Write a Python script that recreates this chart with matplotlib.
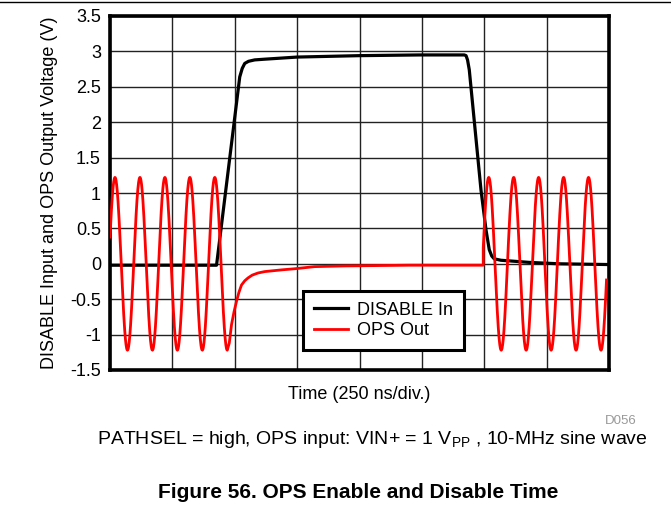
import numpy as np
import matplotlib
matplotlib.use('Agg')
import matplotlib.pyplot as plt
from matplotlib.lines import Line2D

plt.rcParams['font.family'] = ['Liberation Sans', 'DejaVu Sans']

# time axis: 8 div x 250 ns
t_min, t_max = 0, 2000
y_min, y_max = -1.5, 3.5
yticks = [-1.5, -1, -0.5, 0, 0.5, 1, 1.5, 2, 2.5, 3, 3.5]
ytick_labels = ['-1.5', '-1', '-0.5', '0', '0.5', '1', '1.5', '2', '2.5', '3', '3.5']

# DISABLE input (ns, V)
dis_t = [0, 427, 520, 530, 540, 555, 580, 620, 750, 1000, 1240, 1420, 1427,
         1433, 1440, 1487, 1507, 1520, 1530, 1540, 1567, 1680, 1800, 1990]
dis_v = [-0.02, -0.02, 2.64, 2.76, 2.83, 2.86, 2.88, 2.89, 2.92, 2.94, 2.95, 2.95, 2.94,
         2.88, 2.74, 1.04, 0.48, 0.2, 0.11, 0.07, 0.05, 0.02, 0.0, -0.01]

# OPS output: 10-MHz sine (amplitude / phase read from peaks)
sine_amp = 1.22
sine_period = 100.0
left_peak = 20.0        # first peak time, before disable
right_peak = 18.0       # peak phase after re-enable
disable_at = 470        # last trough before decay
enable_at = 1496
end_at = 1990

# decay of the output after disable (ns, V)
decay_t = [470, 478, 487, 497, 507, 517, 527, 540, 553, 570, 593, 620, 647, 690,
           740, 820, 940, 1200, 1496]
decay_v = [-1.17, -1.12, -0.86, -0.68, -0.53, -0.40, -0.30, -0.24, -0.20, -0.16,
           -0.13, -0.11, -0.10, -0.085, -0.07, -0.04, -0.03, -0.02, -0.02]

t1 = np.linspace(0, disable_at, 600)
v1 = sine_amp * np.cos(2 * np.pi * (t1 - left_peak) / sine_period)
t3 = np.linspace(enable_at, end_at, 700)
v3 = sine_amp * np.cos(2 * np.pi * (t3 - right_peak) / sine_period)
ops_t = np.concatenate([t1, decay_t[1:], [enable_at], t3])
ops_v = np.concatenate([v1, decay_v[1:], [decay_v[-1]], v3])

fig = plt.figure(figsize=(6.71, 5.05), dpi=100)
ax = fig.add_axes([110/671, 1-370/505, 499/671, 354/505])

ax.plot(dis_t, dis_v, color='black', lw=2.3, label='DISABLE In', zorder=3)
ax.plot(ops_t, ops_v, color='#ff0000', lw=2.0, label='OPS Out', zorder=4)

ax.set_xlim(t_min, t_max)
ax.set_ylim(y_min, y_max)
ax.set_xticks(np.arange(t_min, t_max + 1, 250))
ax.set_xticklabels([])
ax.set_yticks(yticks)
ax.set_yticklabels(ytick_labels, fontsize=13)
ax.tick_params(length=0, pad=6.5)
ax.grid(True, color='#222222', lw=1.0)
for sp in ax.spines.values():
    sp.set_linewidth(2.6)
ax.set_ylabel('DISABLE Input and OPS Output Voltage (V)', fontsize=13, labelpad=8.5)
ax.set_xlabel('Time (250 ns/div.)', fontsize=13, labelpad=5)

leg = ax.legend(loc='lower left', bbox_to_anchor=(0.387, 0.056), fontsize=13,
                frameon=True, fancybox=False, edgecolor='black', framealpha=1,
                handlelength=1.9, handletextpad=0.5, borderpad=0.6,
                labelspacing=0.2, borderaxespad=0)
leg.get_frame().set_linewidth(2.2)

fig.add_artist(Line2D([0, 1], [1-2/505, 1-2/505], color='black', lw=1.0))
fig.text(637/671, 1-421/505, 'D056', ha='right', va='center', fontsize=9.5, color='#999999')
fig.text(372/671, 1-440/505, 'PATHSEL = high, OPS input: VIN+ = 1 V$_{\\mathregular{PP}}$ , 10-MHz sine wave',
         ha='center', va='center', fontsize=14)
fig.text(358/671, 1-492/505, 'Figure 56. OPS Enable and Disable Time',
         ha='center', va='center', fontsize=15, fontweight='bold')

fig.savefig('out.png', dpi=100)
